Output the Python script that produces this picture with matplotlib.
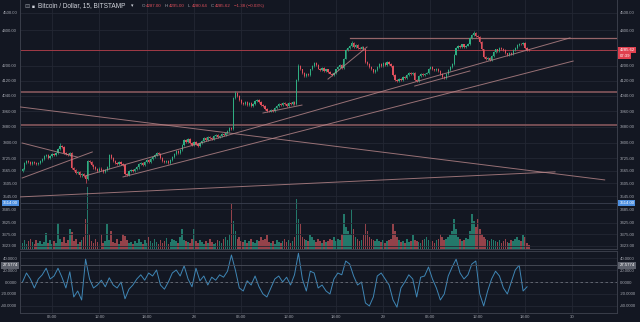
import matplotlib
matplotlib.use('Agg')
import matplotlib.pyplot as plt
import matplotlib.transforms as mtrans
from matplotlib.ticker import FixedLocator, FuncFormatter, NullLocator
import numpy as np

plt.rcParams['font.family'] = ['Liberation Sans', 'DejaVu Sans']

#--- data ---------------------------------------------------------
# 15 min candles, hours relative to the 28th 00:00
start_hour = -21.75
step = 0.25
first_open = 3662

closes = [3672, 3700, 3712, 3705, 3698, 3708, 3702, 3695, 3700, 3712,
          3720, 3735, 3740, 3728, 3736, 3745, 3742, 3752,
          3770, 3785, 3778,
          3752, 3745, 3738, 3748,
          3678,
          3668, 3655, 3660, 3642, 3650, 3640,
          3625,
          3712, 3705,
          3690, 3680, 3672, 3665, 3675, 3668, 3660, 3670, 3680,
          3740, 3725,
          3712, 3700, 3695, 3705, 3698, 3690,
          3650, 3645,
          3662, 3670, 3665, 3672, 3680,
          3695, 3702, 3690, 3705, 3715, 3708, 3722, 3730, 3740, 3752, 3745,
          3725, 3712, 3705, 3710, 3702, 3715,
          3730, 3745, 3760, 3752, 3765,
          3790, 3815, 3805, 3820,
          3800, 3790, 3805, 3795, 3785, 3800,
          3810, 3822, 3815, 3830, 3825, 3818, 3832, 3840, 3828, 3835, 3845, 3838, 3850,
          3860, 3872, 3868,
          4028,
          4055, 4040,
          4015, 4000, 3995, 4008, 3990, 4000, 3985, 3995, 4010, 4015, 4005, 3992, 3985,
          3970, 3960, 3958, 3965, 3962,
          3975, 3985, 3995, 3990, 4000, 3995, 3988, 4002, 3998, 4005, 3995,
          4125,
          4200, 4180,
          4160, 4145, 4155, 4150,
          4180, 4200, 4215, 4205,
          4185, 4175, 4190, 4170, 4180, 4165,
          4158, 4150, 4160,
          4180, 4195, 4205, 4190,
          4240, 4285, 4300,
          4310, 4325, 4305, 4315, 4300,
          4295, 4305, 4290,
          4220, 4210,
          4195, 4180, 4165, 4175,
          4195, 4210, 4200, 4215, 4205, 4220, 4210, 4200,
          4150, 4125, 4118,
          4130, 4125, 4138, 4132,
          4150, 4160, 4155, 4162,
          4125, 4118,
          4145, 4155, 4150, 4158, 4162,
          4185, 4192,
          4180, 4175, 4185, 4170,
          4155, 4140, 4135,
          4155, 4175, 4195, 4212,
          4262, 4300,
          4310, 4302, 4318, 4305, 4312, 4320,
          4355, 4372, 4385, 4365, 4360,
          4330, 4290, 4250, 4235,
          4245, 4232, 4255,
          4275, 4290, 4282, 4300, 4292, 4285,
          4268, 4260, 4272, 4265,
          4285, 4300, 4315, 4322,
          4318, 4328,
          4298, 4287,
          4285.62]

# longer wicks (index: (high, low)), others get a short default wick
wick_override = {19: (3800, None), 32: (None, 3607), 108: (4062, None),
                 140: (4212, None), 167: (4340, None), 229: (4395, None),
                 257: (4295.00, 4280.64)}
wick = 5

volumes = [6, 9, 5, 8, 10, 7, 5, 9, 6, 8, 5, 7, 16, 6, 9, 5, 8, 6, 26, 10,
           7, 12, 6, 9, 20, 17, 8, 10, 5, 7, 9, 12, 30, 62, 15, 8, 6, 10, 7, 5,
           15, 6, 8, 25, 9, 18, 7, 6, 10, 5, 8, 15, 13, 9, 6, 7, 5, 8, 6, 10,
           7, 5, 9, 6, 12, 8, 6, 10, 7, 5, 9, 6, 8, 11, 5, 7, 10, 9, 8, 6,
           12, 20, 9, 8, 7, 6, 10, 20, 8, 6, 9, 7, 5, 8, 6, 10, 7, 5, 6, 9,
           8, 6, 10, 12, 9, 15, 45, 28, 18, 10, 12, 8, 7, 9, 6, 8, 10, 7, 6, 9,
           8, 12, 9, 10, 14, 7, 6, 8, 5, 9, 7, 6, 8, 10, 7, 9, 6, 8, 12, 50,
           30, 25, 12, 10, 9, 8, 14, 12, 9, 7, 10, 8, 6, 9, 7, 8, 10, 9, 12, 8,
           10, 9, 15, 35, 22, 18, 15, 40, 20, 12, 10, 8, 9, 14, 25, 18, 12, 10, 9, 8,
           10, 8, 7, 9, 6, 8, 9, 10, 25, 18, 12, 9, 7, 8, 6, 10, 7, 8, 14, 9,
           8, 7, 6, 9, 10, 12, 9, 7, 8, 6, 9, 10, 15, 12, 9, 10, 12, 14, 18, 30,
           20, 12, 10, 8, 9, 11, 10, 18, 35, 28, 22, 30, 20, 15, 12, 10, 9, 8, 10, 9,
           8, 7, 9, 6, 8, 10, 7, 6, 9, 8, 10, 12, 9, 8, 14, 12, 6, 4]

# oscillator, every 30 min
osc_step = 0.5
osc = [0, 15, 5, -10, 5, 12, 23, 5, 10, 23, 8, -10, 17, -25, -15, -30, 38, 5, -10, -5,
       3, -8, 7, -5, -10, 0, -28, -12, -5, 5, 12, 3, 15, 10, 20, -5, -12, 0, 15, 20,
       10, 27, 5, -8, 23, 2, 10, -5, 8, 3, 12, 8, 18, 45, 20, -10, -15, 2, -5, 10,
       -8, -20, -25, -10, 5, 10, 0, 8, -5, 12, 48, 5, -15, 18, 15, -10, -5, -15, -20, 5,
       15, 12, 35, 30, 10, -5, 0, -35, -40, -25, 10, 15, 5, -5, -30, -42, -10, 0, 12, 5,
       -25, 8, 10, 25, 5, -10, -30, -20, 10, 25, 38, 15, 5, 12, 30, 35, -20, -40, -15, 5,
       18, 10, -10, -20, 0, 20, 28, -15, -8]

# drawn lines: (hour1, price1, hour2, price2)
trend_lines = [(-22.0, 3981, 52.1, 3621),
               (-22.0, 3542, 45.8, 3659),
               (-13.8, 3640, 47.7, 4355),
               (-9.0, 3635, 48.1, 4226),
               (-21.8, 3799, -14.8, 3730),
               (-21.8, 3630, -12.9, 3755),
               (8.75, 3950, 13.7, 3991),
               (17.0, 4128, 21.95, 4304),
               (28.0, 4091, 35.0, 4172)]
levels = [4059, 3889]
level_top = (19.8, 4357)

price_ticks = [4500, 4400, 4200, 4120, 4040, 3960, 3880, 3800, 3725, 3665,
               3605, 3545, 3485, 3425, 3375, 3323]
osc_ticks = [40, 20, 0, -20, -40]
time_ticks = [-18, -12, -6, 0, 6, 12, 18, 24, 30, 36, 42, 48]
time_labels = ['06:00', '12:00', '18:00', '28', '06:00', '12:00', '18:00', '29',
               '06:00', '12:00', '18:00', '30']

#--- styles -------------------------------------------------------
bg = '#131722'
grid_c = '#232733'
text_c = '#a3a6af'
up_c = '#2fae82'
down_c = '#e0505c'
vol_up = '#23786a'
vol_down = '#94424a'
line_c = '#b9878a'

fig = plt.figure(figsize=(6.4, 3.22), dpi=100, facecolor=bg)
ax = fig.add_axes([20/640, 73/322, 597/640, 249/322])
ax_v = ax.twinx()
ax_o = fig.add_axes([20/640, 9/322, 597/640, 62/322])

x_lo, x_hi = -22.07, 53.66

# volume
times = start_hour + step*np.arange(len(closes))
opens = [first_open] + closes[:-1]
vcol = [vol_up if c >= o else vol_down for o, c in zip(opens, closes)]
ax_v.bar(times[:len(volumes)], volumes, width=0.21, color=vcol[:len(volumes)], linewidth=0)
ax_v.set_ylim(0, 249)
ax_v.axis('off')
ax.set_zorder(ax_v.get_zorder() + 1)
ax.patch.set_visible(False)
ax_v.set_xlim(x_lo, x_hi)

# candles
for i, (t, o, c) in enumerate(zip(times, opens, closes)):
    col = up_c if c >= o else down_c
    hi = max(o, c) + wick
    lo = min(o, c) - wick
    if i in wick_override:
        h2, l2 = wick_override[i]
        if h2: hi = h2
        if l2: lo = l2
    ax.vlines(t, lo, hi, color=col, linewidth=0.5, zorder=3)
    bot = min(o, c)
    top = max(o, c, bot + 3)
    ax.bar(t, top - bot, bottom=bot, width=0.16, color=col, linewidth=0, zorder=4)

ax.set_yscale('log')
ax.set_ylim(3310, 4575)
ax.set_xlim(x_lo, x_hi)

# lines
for t1, p1, t2, p2 in trend_lines:
    ax.plot([t1, t2], [p1, p2], color=line_c, linewidth=0.7, alpha=0.8, zorder=5)
for lv in levels:
    ax.axhline(lv, color='#86575c', linewidth=1.2, zorder=2)
ax.plot([level_top[0], x_hi], [level_top[1], level_top[1]], color='#956569', linewidth=0.9, zorder=2)
ax.axhline(closes[-1], color='#a23b47', linewidth=0.7, zorder=2)
ax.axhline(3514, color='#3b4050', linewidth=0.6, zorder=1)

# axes look
for a in (ax, ax_o):
    a.set_facecolor(bg)
    a.set_xlim(x_lo, x_hi)
    a.xaxis.set_major_locator(FixedLocator(time_ticks))
    a.grid(True, color=grid_c, linewidth=0.6)
    a.set_axisbelow(True)
    a.tick_params(axis='both', which='both', length=0, colors=text_c, labelsize=3.1,
                  labelleft=True, labelright=True, pad=2)
    for s in a.spines.values():
        s.set_color('#3a3e4a')
        s.set_linewidth(0.7)
ax.yaxis.set_major_locator(FixedLocator(price_ticks))
ax.yaxis.set_minor_locator(NullLocator())
ax.yaxis.set_major_formatter(FuncFormatter(lambda v, p: '%.2f' % v))
ax.tick_params(axis='x', labelbottom=False)
ax.spines['top'].set_visible(False)

# oscillator
osc_t = start_hour + osc_step*np.arange(len(osc))
ax_o.plot(osc_t, osc, color='#3f86b5', linewidth=0.7)
ax_o.axhline(0, color='#6b6f7a', linewidth=0.6, linestyle=(0, (3, 3)))
ax_o.axhline(27.5774, color='#4a4e5a', linewidth=0.6)
ax_o.set_ylim(-51.7, 51.7)
ax_o.yaxis.set_major_locator(FixedLocator(osc_ticks))
ax_o.yaxis.set_major_formatter(FuncFormatter(lambda v, p: '%.4f' % v))
ax_o.set_xticklabels(time_labels)
ax_o.tick_params(axis='x', pad=1.5)

# axis boxes
def tag(a, y, txt, fc, tc='white', sides=('right',)):
    tr = mtrans.blended_transform_factory(a.transAxes, a.transData)
    for side in sides:
        if side == 'right':
            xx, ha = 1.004, 'left'
        else:
            xx, ha = -0.004, 'right'
        a.text(xx, y, txt, transform=tr, ha=ha, va='center', fontsize=3.1,
               color=tc, bbox=dict(boxstyle='square,pad=0.25', fc=fc, ec='none'),
               clip_on=False, zorder=10)

tag(ax, closes[-1], '4285.62', '#e0404f')
tag(ax, 4256, '07:39', '#e0404f')
tag(ax, 3514, '3514.00', '#4d8fe0', sides=('left', 'right'))
tag(ax_o, 27.5774, '27.5774', '#5d616c', sides=('left', 'right'))

# header
def ftxt(x, y, s, **kw):
    fig.text(x/640, 1 - y/322, s, va='center', **kw)

ftxt(24, 6, '⊟', color='#8a8e98', fontsize=4.5)
ftxt(31.5, 6, '■', color='#d1d4dc', fontsize=3.5)
ftxt(38, 6, 'Bitcoin / Dollar, 15, BITSTAMP', color='#d1d4dc', fontsize=4.7)
ftxt(131, 6, '▾', color='#d1d4dc', fontsize=3.5)
for x, lab, val in [(142.0, 'O', '4287.00'), (164.8, 'H', '4295.00'),
                    (187.6, 'L', '4280.64'), (210.4, 'C', '4285.62')]:
    ftxt(x, 6, lab, color='#a3a6af', fontsize=3.2)
    ftxt(x + 4.2, 6, val, color='#e0505c', fontsize=3.2)
ftxt(234, 6, '−1.38 (−0.03%)', color='#e0505c', fontsize=3.2)

fig.savefig('out.png', dpi=100, facecolor=bg)
